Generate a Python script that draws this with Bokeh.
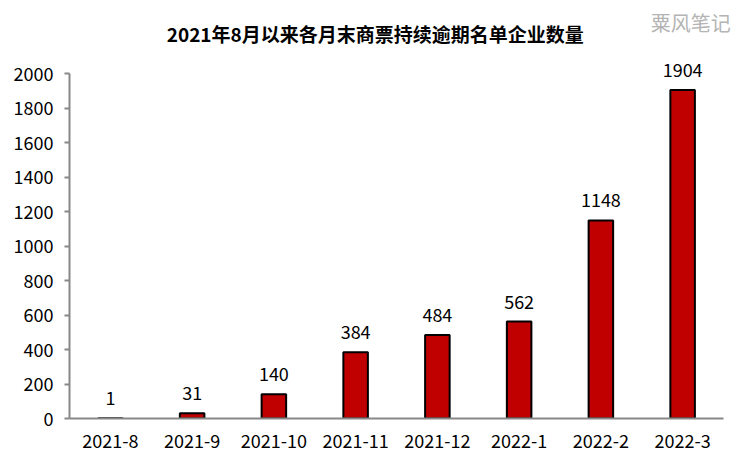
from bokeh.plotting import figure
from bokeh.models import ColumnDataSource, Label, Range1d, FixedTicker
from bokeh.embed import file_html
from bokeh.resources import INLINE

months = ["2021-8", "2021-9", "2021-10", "2021-11", "2021-12", "2022-1", "2022-2", "2022-3"]
counts = [1, 31, 140, 384, 484, 562, 1148, 1904]
title_text = "2021年8月以来各月末商票持续逾期名单企业数量"
watermark = "粟风笔记"

FONT = "Noto Sans CJK SC"

xs = list(range(len(months)))
src = ColumnDataSource(dict(x=xs, v=counts, t=[str(c) for c in counts]))

YTOP = 2000 * 418 / 345
XEND = 7.5 + 23 / 81.75
p = figure(width=746, height=465, x_range=Range1d(-0.5, XEND),
           y_range=Range1d(0, YTOP), output_backend="svg", toolbar_location=None,
           min_border_left=69, min_border_right=0, min_border_top=0, min_border_bottom=47)
p.outline_line_color = None
p.grid.grid_line_color = None
p.background_fill_color = "white"

p.vbar(x="x", top="v", width=0.3, source=src, fill_color="#C00000",
       line_color="black", line_width=2)
p.text(x="x", y="v", text="t", source=src, text_align="center", text_baseline="bottom",
       y_offset=-13, text_font_size="18px", text_color="black", text_font={"value": FONT})

p.yaxis.ticker = list(range(0, 2001, 200))
p.yaxis.bounds = (0, 2000)
p.xaxis.ticker = FixedTicker(ticks=xs)
p.xaxis.major_label_overrides = {i: m for i, m in zip(xs, months)}
p.xaxis.bounds = (-0.5, 7.5)
for ax in (p.xaxis, p.yaxis):
    ax.axis_line_color = "#888888"
    ax.axis_line_width = 2
    ax.major_label_text_font = FONT
    ax.major_label_text_font_size = "18px"
    ax.major_label_text_color = "black"
    ax.minor_tick_line_color = None
p.yaxis.major_tick_line_color = "#888888"
p.yaxis.major_tick_line_width = 2
p.yaxis.major_tick_in = 0
p.yaxis.major_tick_out = 5
p.xaxis.major_tick_line_color = None
p.xaxis.major_label_standoff = 9
p.yaxis.major_label_standoff = 11

p.add_layout(Label(x=3.24, y=2232, text=title_text, text_align="center", text_baseline="middle",
                   text_font=FONT, text_font_size="19px", text_font_style="bold", text_color="black"))
p.add_layout(Label(x=7.1, y=2296, text=watermark, text_align="center", text_baseline="middle",
                   text_font=FONT, text_font_size="20px", text_color="#b4b4b4"))

open("out.html", "w").write(file_html(p, INLINE))
